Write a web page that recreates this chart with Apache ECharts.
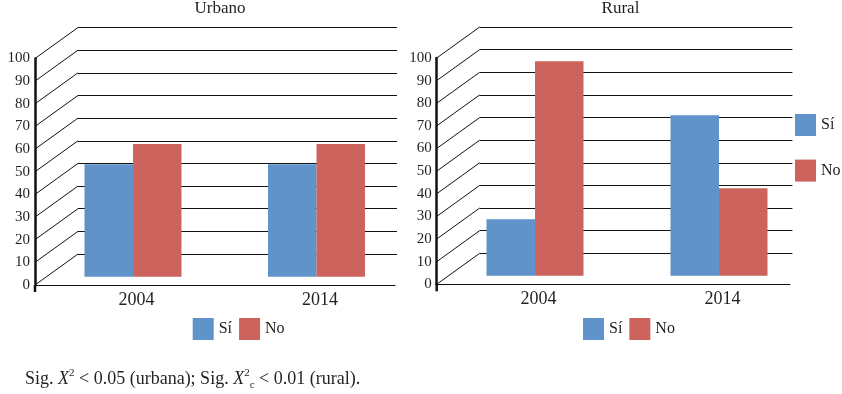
<!DOCTYPE html>
<html>
<head>
<meta charset="utf-8">
<script src="https://cdn.jsdelivr.net/npm/echarts@6/dist/echarts.min.js"></script>
<style>
html, body { margin: 0; padding: 0; background: #fff; }
#main { width: 842px; height: 394px; }
</style>
</head>
<body>
<div id="main"></div>
<script>
// datos
var years = ['2004', '2014'];
var names = ['Sí', 'No'];
var urbanoSi = [49.6, 49.6];
var urbanoNo = [58.6, 58.6];
var ruralSi = [25, 70.9];
var ruralNo = [94.8, 38.6];
var yTicks = [0, 10, 20, 30, 40, 50, 60, 70, 80, 90, 100];

var FONT = 'Liberation Serif';
var TXT = '#231f20';
var BLUE = '#5f93c9', RED = '#cd635d';
var DX = 43, DY = 31; // desplazamiento de la pared del fondo (efecto 3D)

var panels = [
    {title: 'Urbano', tx: 220, x: 35, top: 58.5, bottom: 285, floorW: 360, backW: 319,
        barL: 41.25, barW: 367, barZero: 276.7, si: urbanoSi, no: urbanoNo},
    {title: 'Rural', tx: 620.5, x: 436.7, top: 58, bottom: 284.3, floorW: 353.3, backW: 312.7,
        barL: 443, barW: 368, barZero: 275.7, si: ruralSi, no: ruralNo}
];

var grid = [], xAxis = [], yAxis = [], series = [], title = [];

panels.forEach(function (p, k) {
    var h = p.bottom - p.top;
    var g0 = k * 3;
    //pared del fondo
    grid.push({left: p.x + DX, top: p.top - DY, width: p.backW, height: h, outerBoundsMode: 'none'});
    //eje frontal
    grid.push({left: p.x, top: p.top, width: p.floorW, height: h, outerBoundsMode: 'none'});
    //barras
    grid.push({left: p.barL, top: p.barZero - h, width: p.barW, height: h, outerBoundsMode: 'none'});

    xAxis.push({gridIndex: g0, type: 'value', min: 0, max: 1, show: false});
    yAxis.push({
        gridIndex: g0, type: 'value', min: 0, max: 100, interval: 10,
        axisLine: {show: false}, axisTick: {show: false}, axisLabel: {show: false},
        splitLine: {show: true, lineStyle: {color: '#111', width: 1}}
    });

    xAxis.push({
        gridIndex: g0 + 1, type: 'value', min: 0, max: 1,
        axisLine: {show: true, onZero: false, lineStyle: {color: '#111', width: 1}},
        axisTick: {show: false}, axisLabel: {show: false}, splitLine: {show: false}
    });
    yAxis.push({
        gridIndex: g0 + 1, type: 'value', min: 0, max: 100, interval: 10,
        axisLine: {show: true, lineStyle: {color: '#111', width: 2.5}},
        axisTick: {show: false}, splitLine: {show: false},
        axisLabel: {margin: 5, color: TXT, fontFamily: FONT, fontSize: 15}
    });

    xAxis.push({
        gridIndex: g0 + 2, type: 'category', data: years,
        axisLine: {show: false}, axisTick: {show: false},
        axisLabel: {margin: 15, color: TXT, fontFamily: FONT, fontSize: 18, padding: [0, 0, 0, 7]}
    });
    yAxis.push({gridIndex: g0 + 2, type: 'value', min: 0, max: 100, show: false});

    title.push({
        text: p.title, left: p.tx, textAlign: 'center', top: 0, padding: 0,
        textStyle: {color: TXT, fontFamily: FONT, fontSize: 17, fontWeight: 'normal'}
    });

    //diagonales del suelo/pared
    series.push({
        type: 'custom', xAxisIndex: g0 + 1, yAxisIndex: g0 + 1, clip: false, silent: true,
        data: yTicks.map(function (v) { return [0, v]; }),
        renderItem: function (params, api) {
            var pt = api.coord([0, api.value(1)]);
            var ls = {stroke: '#111', lineWidth: 1};
            var children = [{type: 'line', shape: {x1: pt[0], y1: pt[1], x2: pt[0] + DX, y2: pt[1] - DY}, style: ls}];
            if (params.dataIndex === 0) {
                children.push({type: 'line', shape: {x1: pt[0], y1: pt[1], x2: pt[0], y2: pt[1] + 7}, style: {stroke: '#111', lineWidth: 2.5}});
            }
            return {type: 'group', children: children};
        }
    });

    series.push({
        name: names[0], type: 'bar', xAxisIndex: g0 + 2, yAxisIndex: g0 + 2,
        data: p.si, barWidth: 48.5, barGap: '0%', itemStyle: {color: BLUE}
    });
    series.push({
        name: names[1], type: 'bar', xAxisIndex: g0 + 2, yAxisIndex: g0 + 2,
        data: p.no, barWidth: 48.5, barGap: '0%', itemStyle: {color: RED}
    });
});

var legendBase = {
    data: names, icon: 'rect', itemWidth: 21, itemHeight: 22, padding: 0,
    selectedMode: false,
    textStyle: {color: TXT, fontFamily: FONT, fontSize: 16}
};

var option = {
    animation: false,
    backgroundColor: '#fff',
    title: title,
    legend: [
        Object.assign({}, legendBase, {left: 192.7, top: 318, itemGap: 7}),
        Object.assign({}, legendBase, {left: 583, top: 318, itemGap: 7}),
        Object.assign({}, legendBase, {left: 795, top: 114, orient: 'vertical', itemGap: 23.6})
    ],
    grid: grid,
    xAxis: xAxis,
    yAxis: yAxis,
    series: series,
    graphic: [{
        type: 'text', left: 25, top: 368,
        style: {
            text: '{a|Sig. }{i|X}{sup|2}{a| < 0.05 (urbana); Sig. }{i|X}{sup|2}{sub|c}{a| < 0.01 (rural).}',
            fill: TXT,
            rich: {
                a: {fontFamily: FONT, fontSize: 18, lineHeight: 23, fill: TXT},
                i: {fontFamily: FONT, fontSize: 18, lineHeight: 23, fontStyle: 'italic', fill: TXT},
                sup: {fontFamily: FONT, fontSize: 11, lineHeight: 13, verticalAlign: 'top', fill: TXT},
                sub: {fontFamily: FONT, fontSize: 11, lineHeight: 11, verticalAlign: 'bottom', fill: TXT}
            }
        }
    }]
};

var chart = echarts.init(document.getElementById('main'));
chart.setOption(option);
</script>
</body>
</html>
